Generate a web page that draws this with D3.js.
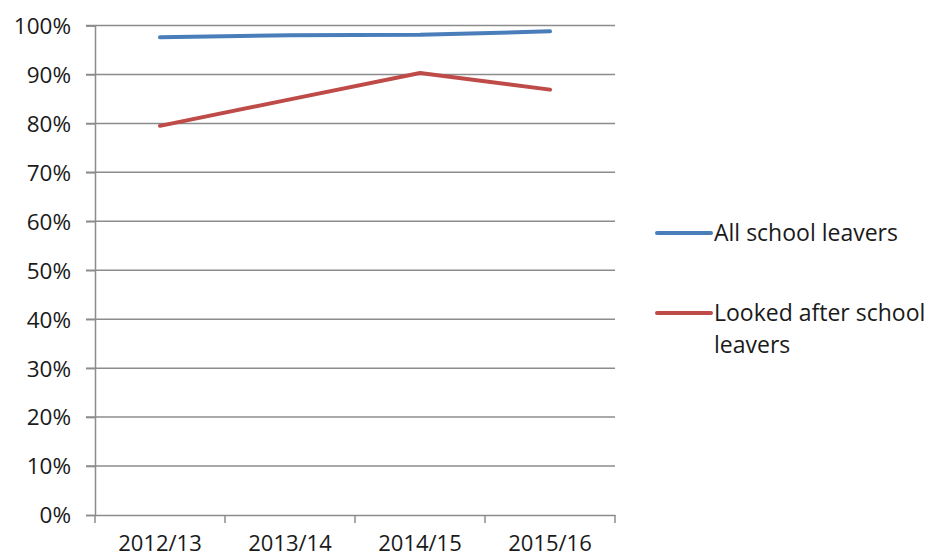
<!DOCTYPE html>
<html><head><meta charset="utf-8">
<script src="https://cdn.jsdelivr.net/npm/d3@7"></script>
<style>body{margin:0;background:#fff}svg{display:block}text{font-family:"Open Sans",Lato,sans-serif;fill:#1a1a1a}</style>
</head><body><svg id="c" width="929" height="557"></svg>
<script>
const categories = ["2012/13","2013/14","2014/15","2015/16"];
const allLeavers = [97.6, 98.0, 98.1, 98.8];
const lookedAfter = [79.5, 84.9, 90.3, 86.9];
const yTicks = [0,10,20,30,40,50,60,70,80,90,100];
const seriesNames = ["All school leavers","Looked after school leavers"];
const colors = ["#4a7ebb","#be4b48"];

const svg = d3.select("#c");
const x = d3.scaleBand().domain(categories).range([95,615]);
const y = d3.scaleLinear().domain([0,100]).range([515,25.5]);

// gridlines
svg.append("g").selectAll("line").data(yTicks.filter(d=>d>0)).join("line")
  .attr("x1",86).attr("x2",615).attr("y1",d=>y(d)).attr("y2",d=>y(d))
  .attr("stroke","#8c8c8c").attr("stroke-width",1.5);

const yAxis = svg.append("g").attr("transform","translate(95,0)")
  .call(d3.axisLeft(y).tickValues(yTicks).tickFormat(d=>d+"%").tickSize(9).tickPadding(15));
yAxis.select(".domain").attr("stroke","#8c8c8c").attr("stroke-width",1.5);
yAxis.selectAll(".tick line").attr("stroke","#8c8c8c").attr("stroke-width",1.5);
yAxis.selectAll("text").style("font-size","22.5px").attr("dy","0.35em").style("fill","#1a1a1a");

const xAxis = svg.append("g").attr("transform","translate(0,515)")
  .call(d3.axisBottom(x).tickSize(0).tickPadding(0));
xAxis.select(".domain").attr("stroke","#8c8c8c").attr("stroke-width",1.5);
xAxis.selectAll("text").style("font-size","22px").style("fill","#1a1a1a")
  .attr("y",35.5).attr("dy",null);
// category boundary ticks
const bounds = categories.map(c=>x(c)).concat([x.range()[1]]);
svg.append("g").selectAll("line").data(bounds).join("line")
  .attr("x1",d=>d).attr("x2",d=>d).attr("y1",515).attr("y2",523)
  .attr("stroke","#8c8c8c").attr("stroke-width",1.5);

const line = d3.line().x((d,i)=>x(categories[i])+x.bandwidth()/2).y(d=>y(d));
[allLeavers, lookedAfter].forEach((s,i)=>{
  svg.append("path").datum(s).attr("d",line).attr("fill","none")
    .attr("stroke",colors[i]).attr("stroke-width",4).attr("stroke-linecap","round").attr("stroke-linejoin","round");
});

// legend
const leg = [{y:233, lines:["All school leavers"]},{y:313, lines:["Looked after school","leavers"]}];
leg.forEach((l,i)=>{
  svg.append("line").attr("x1",657).attr("x2",711).attr("y1",l.y).attr("y2",l.y)
    .attr("stroke",colors[i]).attr("stroke-width",4).attr("stroke-linecap","round");
  const t = svg.append("text").attr("x",714).attr("y",l.y).style("font-size","23px");
  l.lines.forEach((s,j)=>t.append("tspan").attr("x",714).attr("dy", j===0?"0.35em":"1.4em").text(s));
});
</script></body></html>
